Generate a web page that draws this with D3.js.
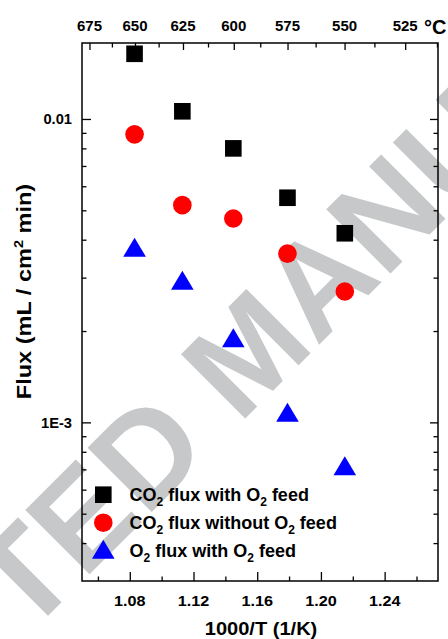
<!DOCTYPE html>
<html><head><meta charset="utf-8">
<script src="https://cdn.jsdelivr.net/npm/d3@7"></script>
<style>
body{margin:0;background:#fff}
svg{display:block}
text{font-family:"Liberation Sans",Arial,Helvetica,sans-serif;font-weight:bold}
</style>
</head><body>
<svg id="c" width="448" height="639"></svg>
<script>
// ---- data ----
const invT = [1.083, 1.113, 1.145, 1.179, 1.215];            // 1000/T (1/K)
const co2WithO2 = [0.0164, 0.0106, 0.0080, 0.0055, 0.0042];
const co2WithoutO2 = [0.0089, 0.0052, 0.0047, 0.0036, 0.0027];
const o2WithO2 = [0.00378, 0.00294, 0.00190, 0.00108, 0.00072];
const seriesColors = ["#000000", "#ff0000", "#0000ff"];
const seriesShapes = ["square", "circle", "triangle"];
const legendLabels = [
  [["CO",0],["2",1],[" flux with O",0],["2",1],[" feed",0]],
  [["CO",0],["2",1],[" flux without O",0],["2",1],[" feed",0]],
  [["O",0],["2",1],[" flux with O",0],["2",1],[" feed",0]]
];
const xMajorTicks = [1.08, 1.12, 1.16, 1.20, 1.24];
const xMinorTicks = [1.06, 1.10, 1.14, 1.18, 1.22, 1.26];
const tempMajorTicks = [675, 650, 625, 600, 575, 550, 525];
const tempMinorTicks = [662.5, 637.5, 612.5, 587.5, 562.5, 537.5, 512.5];
const yMajorTicks = [0.01, 0.001];
const yMajorLabels = ["0.01", "1E-3"];
const yMinorTicks = [4e-4,5e-4,6e-4,7e-4,8e-4,9e-4,2e-3,3e-3,4e-3,5e-3,6e-3,7e-3,8e-3,9e-3];
const xTitle = "1000/T (1/K)";
const watermark = ["ACCEPTED", "MANUSCRIPT"];

// ---- layout ----
const L = 82, R = 438, T = 43, B = 581;
const svg = d3.select("#c");
svg.append("rect").attr("width",448).attr("height",639).attr("fill","#fff");

const x = d3.scaleLinear().domain([1.05, 1.2735]).range([L, R]);
const y = d3.scaleLog().domain([3.0e-4, 0.0178]).range([B, T]);
const tempToX = t => x(1000 / (t + 273.15));

// watermark (behind everything), pivot at the centre of the "A" of MANUSCRIPT
const wf = 132;
const wm = svg.append("g").attr("transform","translate(317,280) rotate(-45)")
  .attr("fill","#c7c8c9").style("font-size", wf + "px");
wm.append("text").attr("x",-1.194*wf).attr("y",0.358*wf).text(watermark[1]);
wm.append("text").attr("x",-1.472*wf).attr("y",0.358*wf).attr("text-anchor","end").text(watermark[0]);

// ---- axes ticks ----
function ticks(axis, vals, size) {
  const g = svg.append("g");
  g.call(axis.tickValues(vals).tickSizeInner(size).tickSizeOuter(0).tickFormat(""));
  g.select(".domain").remove();
  g.selectAll(".tick line").attr("stroke","#000").attr("stroke-width",1.3);
  return g;
}
ticks(d3.axisBottom(x), xMajorTicks, -9).attr("transform",`translate(0,${B})`);
ticks(d3.axisBottom(x), xMinorTicks, -4.5).attr("transform",`translate(0,${B})`);
const topMajor = tempMajorTicks.map(t => 1000/(t+273.15));
const topMinor = tempMinorTicks.map(t => 1000/(t+273.15));
ticks(d3.axisTop(x), topMajor, -7).attr("transform",`translate(0,${T})`);
ticks(d3.axisTop(x), topMinor, -4.5).attr("transform",`translate(0,${T})`);
ticks(d3.axisLeft(y), yMajorTicks, -9).attr("transform",`translate(${L},0)`);
ticks(d3.axisLeft(y), yMinorTicks, -4.5).attr("transform",`translate(${L},0)`);
ticks(d3.axisRight(y), yMajorTicks, -8).attr("transform",`translate(${R},0)`);
ticks(d3.axisRight(y), yMinorTicks, -4.5).attr("transform",`translate(${R},0)`);

svg.append("rect").attr("x",L).attr("y",T).attr("width",R-L).attr("height",B-T)
  .attr("fill","none").attr("stroke","#000").attr("stroke-width",1.5);

// tick labels
svg.append("g").selectAll("text").data(xMajorTicks).join("text")
  .attr("transform", d => `translate(${x(d)},605.5) scale(1.08,1)`)
  .attr("text-anchor","middle").style("font-size","15px").text(d => d.toFixed(2));
svg.append("g").selectAll("text").data(tempMajorTicks).join("text")
  .attr("transform", d => `translate(${tempToX(d)},31)`)
  .attr("text-anchor","middle").style("font-size","15px").text(d => d);
svg.append("g").selectAll("text").data(yMajorTicks).join("text")
  .attr("transform", (d) => `translate(72,${y(d)+5.5}) scale(1.05,1)`)
  .attr("text-anchor","end").style("font-size","14px").text((d,i) => yMajorLabels[i]);

// degree C
const dc = svg.append("text").attr("x",424).attr("y",34).style("font-size","20px");
dc.append("tspan").text("°");
dc.append("tspan").text("C");

// axis titles
svg.append("text").attr("transform","translate(261,635) scale(1.115,1)")
  .attr("text-anchor","middle").style("font-size","18px").text(xTitle);
const yt = svg.append("text").attr("transform","translate(31,291.5) rotate(-90) scale(1.12,1)")
  .attr("text-anchor","middle").style("font-size","21px");
yt.append("tspan").text("Flux (mL / cm");
yt.append("tspan").attr("dy",-8).style("font-size","13px").text("2");
yt.append("tspan").attr("dy",8).text(" min)");

// ---- markers ----
function marker(sel, shape, color) {
  if (shape === "square") sel.append("rect").attr("x",-8.3).attr("y",-8.3).attr("width",16.6).attr("height",16.6).attr("fill",color);
  else if (shape === "circle") sel.append("circle").attr("r",9.3).attr("fill",color);
  else sel.append("path").attr("d","M0,-9.5L11.3,9.5L-11.3,9.5Z").attr("fill",color);
}
const allSeries = [co2WithO2, co2WithoutO2, o2WithO2];
allSeries.forEach((vals, si) => {
  svg.append("g").selectAll("g").data(vals).join("g")
    .attr("transform", (d,i) => `translate(${x(invT[i])},${y(d)})`)
    .each(function(){ marker(d3.select(this), seriesShapes[si], seriesColors[si]); });
});

// ---- legend ----
const legMarkerY = [494.7, 522.7, 549.2];
const legTextY = [501, 529.3, 556.8];
legendLabels.forEach((parts, i) => {
  const g = svg.append("g").attr("transform",`translate(103.3,${legMarkerY[i]})`);
  marker(g, seriesShapes[i], seriesColors[i]);
  const t = svg.append("text").attr("x",129.5).attr("y",legTextY[i]).style("font-size","18px");
  let sub = false;
  parts.forEach(([s, isSub]) => {
    const ts = t.append("tspan").text(s);
    if (isSub && !sub) { ts.attr("dy",5).style("font-size","12px"); sub = true; }
    else if (!isSub && sub) { ts.attr("dy",-5); sub = false; }
  });
});
</script>
</body></html>
